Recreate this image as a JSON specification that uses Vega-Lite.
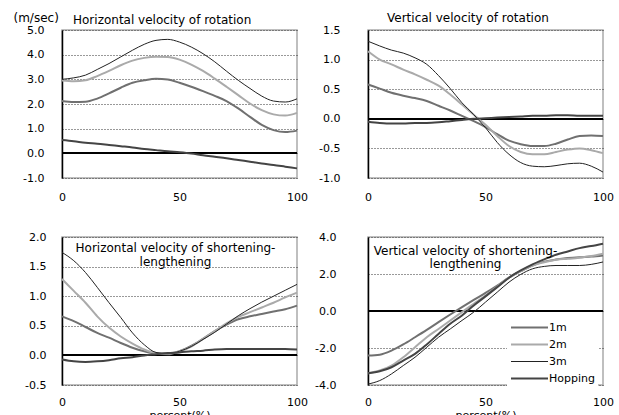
{
  "$schema": "https://vega.github.io/schema/vega-lite/v6.json",
  "background": "white",
  "padding": {"left": 12, "top": 10, "right": 5, "bottom": 0},
  "columns": 2,
  "spacing": {"row": 59, "column": 71},
  "bounds": "flush",
  "resolve": {"scale": {"color": "independent", "strokeWidth": "independent"}, "legend": {"color": "independent"}},
  "config": {
    "font": "DejaVu Sans",
    "view": {"stroke": "#aaaaaa", "strokeWidth": 1.5},
    "axis": {"labelFont": "DejaVu Sans", "labelFontSize": 11, "labelColor": "#000000", "titleFont": "DejaVu Sans", "titleFontSize": 11, "titleFontWeight": "normal", "titleColor": "#000000", "labelOverlap": false},
    "axisY": {"domainColor": "#000000", "domainWidth": 1.5, "ticks": false, "grid": true, "gridColor": "#333333", "gridDash": [1, 2], "gridWidth": 1, "labelExpr": "replace(datum.label, '\u2212', '-')"},
    "axisX": {"grid": false, "domain": false, "ticks": false, "labelFlush": false, "labelPadding": 11, "titlePadding": 2},
    "title": {"font": "DejaVu Sans", "fontSize": 12, "fontWeight": "normal", "color": "#000000"}
  },
  "datasets": {
    "hr": [
      {"series": "1m", "pct": 0, "v": 2.12}, {"series": "1m", "pct": 5, "v": 2.08}, {"series": "1m", "pct": 10, "v": 2.09}, {"series": "1m", "pct": 15, "v": 2.22}, {"series": "1m", "pct": 20, "v": 2.43}, {"series": "1m", "pct": 25, "v": 2.66}, {"series": "1m", "pct": 30, "v": 2.86}, {"series": "1m", "pct": 35, "v": 2.96}, {"series": "1m", "pct": 40, "v": 3.02}, {"series": "1m", "pct": 45, "v": 2.99}, {"series": "1m", "pct": 50, "v": 2.86}, {"series": "1m", "pct": 55, "v": 2.70}, {"series": "1m", "pct": 60, "v": 2.52}, {"series": "1m", "pct": 65, "v": 2.33}, {"series": "1m", "pct": 70, "v": 2.12}, {"series": "1m", "pct": 75, "v": 1.82}, {"series": "1m", "pct": 80, "v": 1.48}, {"series": "1m", "pct": 85, "v": 1.15}, {"series": "1m", "pct": 90, "v": 0.94}, {"series": "1m", "pct": 95, "v": 0.86}, {"series": "1m", "pct": 100, "v": 0.92},
      {"series": "2m", "pct": 0, "v": 2.95}, {"series": "2m", "pct": 5, "v": 2.92}, {"series": "2m", "pct": 10, "v": 2.96}, {"series": "2m", "pct": 15, "v": 3.13}, {"series": "2m", "pct": 20, "v": 3.34}, {"series": "2m", "pct": 25, "v": 3.57}, {"series": "2m", "pct": 30, "v": 3.76}, {"series": "2m", "pct": 35, "v": 3.87}, {"series": "2m", "pct": 40, "v": 3.92}, {"series": "2m", "pct": 45, "v": 3.91}, {"series": "2m", "pct": 50, "v": 3.80}, {"series": "2m", "pct": 55, "v": 3.60}, {"series": "2m", "pct": 60, "v": 3.34}, {"series": "2m", "pct": 65, "v": 3.03}, {"series": "2m", "pct": 70, "v": 2.70}, {"series": "2m", "pct": 75, "v": 2.36}, {"series": "2m", "pct": 80, "v": 2.02}, {"series": "2m", "pct": 85, "v": 1.75}, {"series": "2m", "pct": 90, "v": 1.58}, {"series": "2m", "pct": 95, "v": 1.53}, {"series": "2m", "pct": 100, "v": 1.64},
      {"series": "3m", "pct": 0, "v": 3.00}, {"series": "3m", "pct": 5, "v": 3.06}, {"series": "3m", "pct": 10, "v": 3.17}, {"series": "3m", "pct": 15, "v": 3.40}, {"series": "3m", "pct": 20, "v": 3.64}, {"series": "3m", "pct": 25, "v": 3.91}, {"series": "3m", "pct": 30, "v": 4.18}, {"series": "3m", "pct": 35, "v": 4.42}, {"series": "3m", "pct": 40, "v": 4.58}, {"series": "3m", "pct": 45, "v": 4.62}, {"series": "3m", "pct": 50, "v": 4.51}, {"series": "3m", "pct": 55, "v": 4.31}, {"series": "3m", "pct": 60, "v": 4.04}, {"series": "3m", "pct": 65, "v": 3.71}, {"series": "3m", "pct": 70, "v": 3.33}, {"series": "3m", "pct": 75, "v": 2.96}, {"series": "3m", "pct": 80, "v": 2.63}, {"series": "3m", "pct": 85, "v": 2.32}, {"series": "3m", "pct": 90, "v": 2.12}, {"series": "3m", "pct": 95, "v": 2.08}, {"series": "3m", "pct": 100, "v": 2.21},
      {"series": "Hopping", "pct": 0, "v": 0.54}, {"series": "Hopping", "pct": 5, "v": 0.49}, {"series": "Hopping", "pct": 10, "v": 0.43}, {"series": "Hopping", "pct": 15, "v": 0.39}, {"series": "Hopping", "pct": 20, "v": 0.34}, {"series": "Hopping", "pct": 25, "v": 0.29}, {"series": "Hopping", "pct": 30, "v": 0.24}, {"series": "Hopping", "pct": 35, "v": 0.18}, {"series": "Hopping", "pct": 40, "v": 0.13}, {"series": "Hopping", "pct": 45, "v": 0.08}, {"series": "Hopping", "pct": 50, "v": 0.04}, {"series": "Hopping", "pct": 55, "v": -0.01}, {"series": "Hopping", "pct": 60, "v": -0.08}, {"series": "Hopping", "pct": 65, "v": -0.14}, {"series": "Hopping", "pct": 70, "v": -0.20}, {"series": "Hopping", "pct": 75, "v": -0.27}, {"series": "Hopping", "pct": 80, "v": -0.34}, {"series": "Hopping", "pct": 85, "v": -0.41}, {"series": "Hopping", "pct": 90, "v": -0.47}, {"series": "Hopping", "pct": 95, "v": -0.54}, {"series": "Hopping", "pct": 100, "v": -0.61}
    ],
    "vr": [
      {"series": "1m", "pct": 0, "v": 0.58}, {"series": "1m", "pct": 5, "v": 0.51}, {"series": "1m", "pct": 10, "v": 0.44}, {"series": "1m", "pct": 15, "v": 0.39}, {"series": "1m", "pct": 20, "v": 0.35}, {"series": "1m", "pct": 25, "v": 0.30}, {"series": "1m", "pct": 30, "v": 0.22}, {"series": "1m", "pct": 35, "v": 0.14}, {"series": "1m", "pct": 40, "v": 0.05}, {"series": "1m", "pct": 45, "v": -0.04}, {"series": "1m", "pct": 50, "v": -0.14}, {"series": "1m", "pct": 55, "v": -0.26}, {"series": "1m", "pct": 60, "v": -0.37}, {"series": "1m", "pct": 65, "v": -0.43}, {"series": "1m", "pct": 70, "v": -0.46}, {"series": "1m", "pct": 75, "v": -0.46}, {"series": "1m", "pct": 80, "v": -0.42}, {"series": "1m", "pct": 85, "v": -0.35}, {"series": "1m", "pct": 90, "v": -0.29}, {"series": "1m", "pct": 95, "v": -0.28}, {"series": "1m", "pct": 100, "v": -0.29},
      {"series": "2m", "pct": 0, "v": 1.14}, {"series": "2m", "pct": 5, "v": 1.00}, {"series": "2m", "pct": 10, "v": 0.92}, {"series": "2m", "pct": 15, "v": 0.83}, {"series": "2m", "pct": 20, "v": 0.75}, {"series": "2m", "pct": 25, "v": 0.66}, {"series": "2m", "pct": 30, "v": 0.56}, {"series": "2m", "pct": 35, "v": 0.41}, {"series": "2m", "pct": 40, "v": 0.24}, {"series": "2m", "pct": 45, "v": 0.07}, {"series": "2m", "pct": 50, "v": -0.10}, {"series": "2m", "pct": 55, "v": -0.29}, {"series": "2m", "pct": 60, "v": -0.46}, {"series": "2m", "pct": 65, "v": -0.56}, {"series": "2m", "pct": 70, "v": -0.60}, {"series": "2m", "pct": 75, "v": -0.60}, {"series": "2m", "pct": 80, "v": -0.56}, {"series": "2m", "pct": 85, "v": -0.52}, {"series": "2m", "pct": 90, "v": -0.50}, {"series": "2m", "pct": 95, "v": -0.53}, {"series": "2m", "pct": 100, "v": -0.58},
      {"series": "3m", "pct": 0, "v": 1.31}, {"series": "3m", "pct": 5, "v": 1.23}, {"series": "3m", "pct": 10, "v": 1.16}, {"series": "3m", "pct": 15, "v": 1.11}, {"series": "3m", "pct": 20, "v": 1.03}, {"series": "3m", "pct": 25, "v": 0.92}, {"series": "3m", "pct": 30, "v": 0.73}, {"series": "3m", "pct": 35, "v": 0.51}, {"series": "3m", "pct": 40, "v": 0.27}, {"series": "3m", "pct": 45, "v": 0.07}, {"series": "3m", "pct": 50, "v": -0.15}, {"series": "3m", "pct": 55, "v": -0.40}, {"series": "3m", "pct": 60, "v": -0.60}, {"series": "3m", "pct": 65, "v": -0.74}, {"series": "3m", "pct": 70, "v": -0.80}, {"series": "3m", "pct": 75, "v": -0.81}, {"series": "3m", "pct": 80, "v": -0.79}, {"series": "3m", "pct": 85, "v": -0.76}, {"series": "3m", "pct": 90, "v": -0.75}, {"series": "3m", "pct": 95, "v": -0.80}, {"series": "3m", "pct": 100, "v": -0.90},
      {"series": "Hopping", "pct": 0, "v": -0.05}, {"series": "Hopping", "pct": 5, "v": -0.07}, {"series": "Hopping", "pct": 10, "v": -0.08}, {"series": "Hopping", "pct": 15, "v": -0.08}, {"series": "Hopping", "pct": 20, "v": -0.07}, {"series": "Hopping", "pct": 25, "v": -0.07}, {"series": "Hopping", "pct": 30, "v": -0.06}, {"series": "Hopping", "pct": 35, "v": -0.04}, {"series": "Hopping", "pct": 40, "v": -0.02}, {"series": "Hopping", "pct": 45, "v": 0.00}, {"series": "Hopping", "pct": 50, "v": 0.01}, {"series": "Hopping", "pct": 55, "v": 0.02}, {"series": "Hopping", "pct": 60, "v": 0.03}, {"series": "Hopping", "pct": 65, "v": 0.04}, {"series": "Hopping", "pct": 70, "v": 0.05}, {"series": "Hopping", "pct": 75, "v": 0.05}, {"series": "Hopping", "pct": 80, "v": 0.06}, {"series": "Hopping", "pct": 85, "v": 0.06}, {"series": "Hopping", "pct": 90, "v": 0.05}, {"series": "Hopping", "pct": 95, "v": 0.05}, {"series": "Hopping", "pct": 100, "v": 0.05}
    ],
    "hs": [
      {"series": "1m", "pct": 0, "v": 0.66}, {"series": "1m", "pct": 5, "v": 0.58}, {"series": "1m", "pct": 10, "v": 0.48}, {"series": "1m", "pct": 15, "v": 0.38}, {"series": "1m", "pct": 20, "v": 0.30}, {"series": "1m", "pct": 25, "v": 0.21}, {"series": "1m", "pct": 30, "v": 0.13}, {"series": "1m", "pct": 35, "v": 0.07}, {"series": "1m", "pct": 40, "v": 0.03}, {"series": "1m", "pct": 45, "v": 0.02}, {"series": "1m", "pct": 50, "v": 0.07}, {"series": "1m", "pct": 55, "v": 0.16}, {"series": "1m", "pct": 60, "v": 0.28}, {"series": "1m", "pct": 65, "v": 0.41}, {"series": "1m", "pct": 70, "v": 0.52}, {"series": "1m", "pct": 75, "v": 0.61}, {"series": "1m", "pct": 80, "v": 0.66}, {"series": "1m", "pct": 85, "v": 0.70}, {"series": "1m", "pct": 90, "v": 0.74}, {"series": "1m", "pct": 95, "v": 0.78}, {"series": "1m", "pct": 100, "v": 0.84},
      {"series": "2m", "pct": 0, "v": 1.29}, {"series": "2m", "pct": 5, "v": 1.09}, {"series": "2m", "pct": 10, "v": 0.89}, {"series": "2m", "pct": 15, "v": 0.66}, {"series": "2m", "pct": 20, "v": 0.47}, {"series": "2m", "pct": 25, "v": 0.32}, {"series": "2m", "pct": 30, "v": 0.20}, {"series": "2m", "pct": 35, "v": 0.10}, {"series": "2m", "pct": 40, "v": 0.04}, {"series": "2m", "pct": 45, "v": 0.03}, {"series": "2m", "pct": 50, "v": 0.07}, {"series": "2m", "pct": 55, "v": 0.15}, {"series": "2m", "pct": 60, "v": 0.28}, {"series": "2m", "pct": 65, "v": 0.41}, {"series": "2m", "pct": 70, "v": 0.54}, {"series": "2m", "pct": 75, "v": 0.65}, {"series": "2m", "pct": 80, "v": 0.73}, {"series": "2m", "pct": 85, "v": 0.81}, {"series": "2m", "pct": 90, "v": 0.89}, {"series": "2m", "pct": 95, "v": 0.98}, {"series": "2m", "pct": 100, "v": 1.06},
      {"series": "3m", "pct": 0, "v": 1.74}, {"series": "3m", "pct": 5, "v": 1.60}, {"series": "3m", "pct": 10, "v": 1.40}, {"series": "3m", "pct": 15, "v": 1.15}, {"series": "3m", "pct": 20, "v": 0.89}, {"series": "3m", "pct": 25, "v": 0.64}, {"series": "3m", "pct": 30, "v": 0.38}, {"series": "3m", "pct": 35, "v": 0.18}, {"series": "3m", "pct": 40, "v": 0.05}, {"series": "3m", "pct": 45, "v": 0.03}, {"series": "3m", "pct": 50, "v": 0.07}, {"series": "3m", "pct": 55, "v": 0.15}, {"series": "3m", "pct": 60, "v": 0.27}, {"series": "3m", "pct": 65, "v": 0.39}, {"series": "3m", "pct": 70, "v": 0.53}, {"series": "3m", "pct": 75, "v": 0.67}, {"series": "3m", "pct": 80, "v": 0.79}, {"series": "3m", "pct": 85, "v": 0.90}, {"series": "3m", "pct": 90, "v": 1.00}, {"series": "3m", "pct": 95, "v": 1.10}, {"series": "3m", "pct": 100, "v": 1.20},
      {"series": "Hopping", "pct": 0, "v": -0.07}, {"series": "Hopping", "pct": 5, "v": -0.10}, {"series": "Hopping", "pct": 10, "v": -0.11}, {"series": "Hopping", "pct": 15, "v": -0.10}, {"series": "Hopping", "pct": 20, "v": -0.08}, {"series": "Hopping", "pct": 25, "v": -0.05}, {"series": "Hopping", "pct": 30, "v": -0.03}, {"series": "Hopping", "pct": 35, "v": 0.00}, {"series": "Hopping", "pct": 40, "v": 0.02}, {"series": "Hopping", "pct": 45, "v": 0.04}, {"series": "Hopping", "pct": 50, "v": 0.05}, {"series": "Hopping", "pct": 55, "v": 0.07}, {"series": "Hopping", "pct": 60, "v": 0.08}, {"series": "Hopping", "pct": 65, "v": 0.10}, {"series": "Hopping", "pct": 70, "v": 0.11}, {"series": "Hopping", "pct": 75, "v": 0.11}, {"series": "Hopping", "pct": 80, "v": 0.11}, {"series": "Hopping", "pct": 85, "v": 0.11}, {"series": "Hopping", "pct": 90, "v": 0.11}, {"series": "Hopping", "pct": 95, "v": 0.11}, {"series": "Hopping", "pct": 100, "v": 0.10}
    ],
    "vs": [
      {"series": "1m", "pct": 0, "v": -2.41}, {"series": "1m", "pct": 5, "v": -2.36}, {"series": "1m", "pct": 10, "v": -2.14}, {"series": "1m", "pct": 15, "v": -1.81}, {"series": "1m", "pct": 20, "v": -1.42}, {"series": "1m", "pct": 25, "v": -1.02}, {"series": "1m", "pct": 30, "v": -0.60}, {"series": "1m", "pct": 35, "v": -0.19}, {"series": "1m", "pct": 40, "v": 0.21}, {"series": "1m", "pct": 45, "v": 0.60}, {"series": "1m", "pct": 50, "v": 0.98}, {"series": "1m", "pct": 55, "v": 1.38}, {"series": "1m", "pct": 60, "v": 1.80}, {"series": "1m", "pct": 65, "v": 2.15}, {"series": "1m", "pct": 70, "v": 2.46}, {"series": "1m", "pct": 75, "v": 2.67}, {"series": "1m", "pct": 80, "v": 2.78}, {"series": "1m", "pct": 85, "v": 2.86}, {"series": "1m", "pct": 90, "v": 2.91}, {"series": "1m", "pct": 95, "v": 2.94}, {"series": "1m", "pct": 100, "v": 3.00},
      {"series": "2m", "pct": 0, "v": -3.37}, {"series": "2m", "pct": 5, "v": -3.22}, {"series": "2m", "pct": 10, "v": -2.95}, {"series": "2m", "pct": 15, "v": -2.50}, {"series": "2m", "pct": 20, "v": -1.96}, {"series": "2m", "pct": 25, "v": -1.42}, {"series": "2m", "pct": 30, "v": -0.97}, {"series": "2m", "pct": 35, "v": -0.51}, {"series": "2m", "pct": 40, "v": -0.06}, {"series": "2m", "pct": 45, "v": 0.39}, {"series": "2m", "pct": 50, "v": 0.84}, {"series": "2m", "pct": 55, "v": 1.32}, {"series": "2m", "pct": 60, "v": 1.80}, {"series": "2m", "pct": 65, "v": 2.15}, {"series": "2m", "pct": 70, "v": 2.46}, {"series": "2m", "pct": 75, "v": 2.64}, {"series": "2m", "pct": 80, "v": 2.77}, {"series": "2m", "pct": 85, "v": 2.82}, {"series": "2m", "pct": 90, "v": 2.88}, {"series": "2m", "pct": 95, "v": 2.97}, {"series": "2m", "pct": 100, "v": 3.10},
      {"series": "3m", "pct": 0, "v": -3.95}, {"series": "3m", "pct": 5, "v": -3.76}, {"series": "3m", "pct": 10, "v": -3.40}, {"series": "3m", "pct": 15, "v": -2.95}, {"series": "3m", "pct": 20, "v": -2.50}, {"series": "3m", "pct": 25, "v": -1.96}, {"series": "3m", "pct": 30, "v": -1.42}, {"series": "3m", "pct": 35, "v": -0.97}, {"series": "3m", "pct": 40, "v": -0.51}, {"series": "3m", "pct": 45, "v": -0.06}, {"series": "3m", "pct": 50, "v": 0.48}, {"series": "3m", "pct": 55, "v": 1.02}, {"series": "3m", "pct": 60, "v": 1.56}, {"series": "3m", "pct": 65, "v": 1.98}, {"series": "3m", "pct": 70, "v": 2.28}, {"series": "3m", "pct": 75, "v": 2.41}, {"series": "3m", "pct": 80, "v": 2.46}, {"series": "3m", "pct": 85, "v": 2.46}, {"series": "3m", "pct": 90, "v": 2.46}, {"series": "3m", "pct": 95, "v": 2.52}, {"series": "3m", "pct": 100, "v": 2.65},
      {"series": "Hopping", "pct": 0, "v": -3.37}, {"series": "Hopping", "pct": 5, "v": -3.26}, {"series": "Hopping", "pct": 10, "v": -3.04}, {"series": "Hopping", "pct": 15, "v": -2.68}, {"series": "Hopping", "pct": 20, "v": -2.32}, {"series": "Hopping", "pct": 25, "v": -1.81}, {"series": "Hopping", "pct": 30, "v": -1.24}, {"series": "Hopping", "pct": 35, "v": -0.69}, {"series": "Hopping", "pct": 40, "v": -0.24}, {"series": "Hopping", "pct": 45, "v": 0.30}, {"series": "Hopping", "pct": 50, "v": 0.79}, {"series": "Hopping", "pct": 55, "v": 1.29}, {"series": "Hopping", "pct": 60, "v": 1.80}, {"series": "Hopping", "pct": 65, "v": 2.19}, {"series": "Hopping", "pct": 70, "v": 2.52}, {"series": "Hopping", "pct": 75, "v": 2.79}, {"series": "Hopping", "pct": 80, "v": 3.04}, {"series": "Hopping", "pct": 85, "v": 3.22}, {"series": "Hopping", "pct": 90, "v": 3.40}, {"series": "Hopping", "pct": 95, "v": 3.51}, {"series": "Hopping", "pct": 100, "v": 3.64}
    ]
  },
  "concat": [
    {
      "width": 235, "height": 148,
      "view": {"stroke": "#aaaaaa", "strokeWidth": 1.5},
      "title": {"text": "Horizontal velocity of rotation", "anchor": "start", "frame": "group", "dx": 11, "offset": -16},
      "data": {"name": "hr"},
      "layer": [
        {"mark": {"type": "rule", "color": "#000000", "strokeWidth": 1}, "encoding": {"y": {"datum": 0, "type": "quantitative", "scale": {"domain": [-1, 5], "nice": false}, "axis": {"values": [-1, 0, 1, 2, 3, 4, 5], "format": ".1f", "title": "(m/sec)", "titleFontSize": 12, "titleAngle": 0, "titleAlign": "left", "titleBaseline": "middle", "titleX": -49, "titleY": -13, "labelPadding": 18}}}},
        {
          "mark": {"type": "line", "interpolate": "monotone"},
          "encoding": {
            "x": {"field": "pct", "type": "quantitative", "scale": {"domain": [0, 100], "nice": false}, "axis": {"values": [0, 50, 100], "title": null, "labelPadding": 13}},
            "y": {"field": "v", "type": "quantitative", "scale": {"domain": [-1, 5], "nice": false}, "axis": {"values": [-1, 0, 1, 2, 3, 4, 5], "format": ".1f", "title": "(m/sec)", "titleFontSize": 12, "titleAngle": 0, "titleAlign": "left", "titleBaseline": "middle", "titleX": -49, "titleY": -13, "labelPadding": 18}},
            "color": {"field": "series", "type": "nominal", "scale": {"domain": ["1m", "2m", "3m", "Hopping"], "range": ["#707070", "#aaaaaa", "#222222", "#444444"]}, "legend": null},
            "strokeWidth": {"field": "series", "type": "nominal", "scale": {"type": "ordinal", "domain": ["1m", "2m", "3m", "Hopping"], "range": [2, 2, 1, 2]}, "legend": null}
          }
        }
      ]
    },
    {
      "width": 235, "height": 148,
      "view": {"stroke": "#aaaaaa", "strokeWidth": 1.5},
      "title": {"text": "Vertical velocity of rotation", "anchor": "start", "frame": "group", "dx": 19, "offset": -1},
      "data": {"name": "vr"},
      "layer": [
        {"mark": {"type": "rule", "color": "#000000", "strokeWidth": 1}, "encoding": {"y": {"datum": 0, "type": "quantitative", "scale": {"domain": [-1, 1.5], "nice": false}, "axis": {"values": [-1, -0.5, 0, 0.5, 1, 1.5], "format": ".1f", "title": null, "labelPadding": 28}}}},
        {
          "mark": {"type": "line", "interpolate": "monotone"},
          "encoding": {
            "x": {"field": "pct", "type": "quantitative", "scale": {"domain": [0, 100], "nice": false}, "axis": {"values": [0, 50, 100], "title": null, "labelPadding": 13}},
            "y": {"field": "v", "type": "quantitative", "scale": {"domain": [-1, 1.5], "nice": false}, "axis": {"values": [-1, -0.5, 0, 0.5, 1, 1.5], "format": ".1f", "title": null, "labelPadding": 28}},
            "color": {"field": "series", "type": "nominal", "scale": {"domain": ["1m", "2m", "3m", "Hopping"], "range": ["#707070", "#aaaaaa", "#222222", "#444444"]}, "legend": null},
            "strokeWidth": {"field": "series", "type": "nominal", "scale": {"type": "ordinal", "domain": ["1m", "2m", "3m", "Hopping"], "range": [2, 2, 1, 2]}, "legend": null}
          }
        }
      ]
    },
    {
      "width": 235, "height": 148,
      "view": {"stroke": "#aaaaaa", "strokeWidth": 1.5},
      "title": {"text": ["Horizontal velocity of shortening-", "lengthening"], "anchor": "middle", "frame": "group", "dx": -4, "offset": -38, "lineHeight": 14},
      "data": {"name": "hs"},
      "layer": [
        {"mark": {"type": "rule", "color": "#000000", "strokeWidth": 1}, "encoding": {"y": {"datum": 0, "type": "quantitative", "scale": {"domain": [-0.5, 2], "nice": false}, "axis": {"values": [-0.5, 0, 0.5, 1, 1.5, 2], "format": ".1f", "title": null, "labelPadding": 16}}}},
        {
          "mark": {"type": "line", "interpolate": "monotone"},
          "encoding": {
            "x": {"field": "pct", "type": "quantitative", "scale": {"domain": [0, 100], "nice": false}, "axis": {"values": [0, 50, 100], "title": "percent(%)"}},
            "y": {"field": "v", "type": "quantitative", "scale": {"domain": [-0.5, 2], "nice": false}, "axis": {"values": [-0.5, 0, 0.5, 1, 1.5, 2], "format": ".1f", "title": null, "labelPadding": 16}},
            "color": {"field": "series", "type": "nominal", "scale": {"domain": ["1m", "2m", "3m", "Hopping"], "range": ["#707070", "#aaaaaa", "#222222", "#444444"]}, "legend": null},
            "strokeWidth": {"field": "series", "type": "nominal", "scale": {"type": "ordinal", "domain": ["1m", "2m", "3m", "Hopping"], "range": [2, 2, 1, 2]}, "legend": null}
          }
        }
      ]
    },
    {
      "width": 235, "height": 148,
      "view": {"stroke": "#aaaaaa", "strokeWidth": 1.5},
      "title": {"text": ["Vertical velocity of shortening-", "lengthening"], "anchor": "middle", "frame": "group", "dx": -20, "offset": -40, "lineHeight": 13},
      "data": {"name": "vs"},
      "layer": [
        {"mark": {"type": "rule", "color": "#000000", "strokeWidth": 1}, "encoding": {"y": {"datum": 0, "type": "quantitative", "scale": {"domain": [-4, 4], "nice": false}, "axis": {"values": [-4, -2, 0, 2, 4], "format": ".1f", "title": null, "labelPadding": 32}}}},
        {
          "mark": {"type": "line", "interpolate": "monotone"},
          "encoding": {
            "x": {"field": "pct", "type": "quantitative", "scale": {"domain": [0, 100], "nice": false}, "axis": {"values": [0, 50, 100], "title": "percent(%)"}},
            "y": {"field": "v", "type": "quantitative", "scale": {"domain": [-4, 4], "nice": false}, "axis": {"values": [-4, -2, 0, 2, 4], "format": ".1f", "title": null, "labelPadding": 32}},
            "color": {"field": "series", "type": "nominal", "scale": {"domain": ["1m", "2m", "3m", "Hopping"], "range": ["#707070", "#aaaaaa", "#222222", "#444444"]}, "legend": {"orient": "none", "legendX": 139, "legendY": 79, "title": null, "padding": 3, "fillColor": "white", "symbolType": "stroke", "symbolSize": 1369, "symbolStrokeWidth": 1.5, "clipHeight": 17, "rowPadding": 0, "labelFontSize": 11, "labelFont": "DejaVu Sans", "labelColor": "#000000", "labelOffset": 0}},
            "strokeWidth": {"field": "series", "type": "nominal", "scale": {"type": "ordinal", "domain": ["1m", "2m", "3m", "Hopping"], "range": [2, 2, 1, 2]}, "legend": null}
          }
        }
      ]
    }
  ]
}
